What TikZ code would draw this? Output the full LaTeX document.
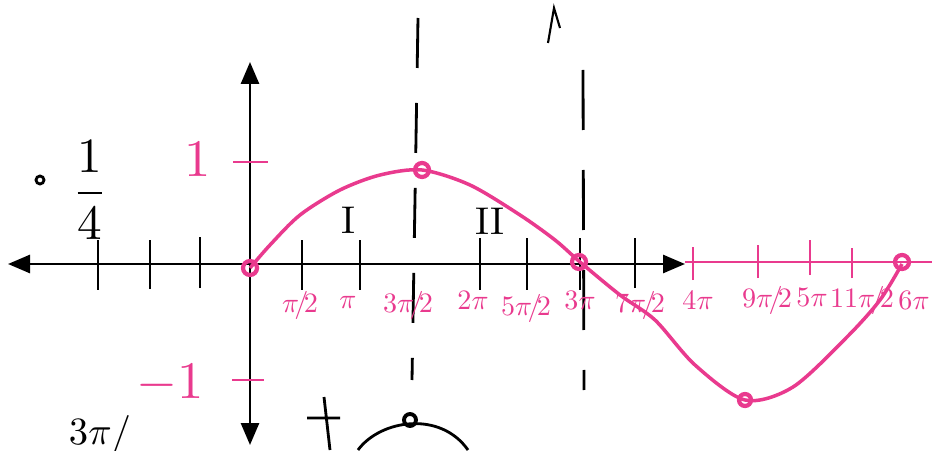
\documentclass[tikz,border=0pt]{standalone}
\usepackage{amsfonts,amssymb,amsmath}
\usepackage{xcolor}
\usepackage{tikz}
\usetikzlibrary{arrows.meta}
\definecolor{pen}{RGB}{233,58,142}

\begin{document}
\begin{tikzpicture}[=>stealth,line width=0.8pt]
\useasboundingbox (0,0) rectangle (9.32,4.5);
% axes
\draw[{Triangle[length=2.2mm,width=1.8mm]}-{Triangle[length=2.2mm,width=1.8mm]}](0.08,1.86)--(6.85,1.86);
\draw[{Triangle[length=2.2mm,width=1.8mm]}-{Triangle[length=2.2mm,width=1.8mm]}](2.50,0.05)--(2.50,3.88);
% ticks
\draw(0.98,1.60)--(0.98,2.10)
(1.50,1.61)--(1.50,2.10)
(2.00,1.62)--(2.00,2.13)
(3.02,1.60)--(3.02,2.10)
(3.60,1.60)--(3.60,2.10)
(4.80,1.60)--(4.80,2.12)
(5.27,1.60)--(5.27,2.12)
(5.80,1.60)--(5.80,2.12)
(6.35,1.62)--(6.35,2.12);
\draw[pen](6.85,1.88)--(9.32,1.88)
(6.93,1.70)--(6.93,2.03)
(7.58,1.72)--(7.58,2.05)
(8.10,1.75)--(8.10,2.10)
(8.52,1.72)--(8.52,2.02)
(2.33,2.88)--(2.68,2.88)
(2.32,0.70)--(2.64,0.70);
% dashed guides
\draw[dash pattern=on 0.5cm off 0.35cm](4.18,4.32)--(4.12,0.70);
\draw[dash pattern=on 0.6cm off 0.4cm](5.83,3.80)--(5.84,0.60);
\draw[line width=0.6pt](5.48,4.07)--(5.54,4.42)--(5.60,4.22);
% curve
\draw[pen,line width=1pt]plot[smooth]coordinates{(2.50,1.82)(2.70,2.05)(3.00,2.35)(3.40,2.60)(3.80,2.75)(4.22,2.80)(4.70,2.65)(5.20,2.35)(5.55,2.10)(5.80,1.88)(6.20,1.55)(6.55,1.30)(6.95,0.85)(7.45,0.50)(7.93,0.63)(8.47,1.13)(8.80,1.50)(9.02,1.86)};
\draw[pen,line width=1.2pt](2.50,1.82)circle(0.07)
(4.22,2.80)circle(0.07)
(5.79,1.88)circle(0.07)
(7.45,0.50)circle(0.06)
(9.02,1.88)circle(0.07);
% labels
\draw[pen](3.00,1.45)node[scale=0.8](lpi1){$\pi\!/\!2$}
(3.48,1.48)node[scale=0.8](lpi2){$\pi$}
(4.08,1.45)node[scale=0.8](lpi3){$3\pi\!/\!2$}
(4.73,1.50)node[scale=0.8](lpi4){$2\pi$}
(5.26,1.42)node[scale=0.8](lpi5){$5\pi\!/\!2$}
(5.80,1.50)node[scale=0.8](lpi6){$3\pi$}
(6.40,1.45)node[scale=0.8](lpi7){$7\pi\!/\!2$}
(6.98,1.50)node[scale=0.8](lpi8){$4\pi$}
(7.67,1.50)node[scale=0.8](lpi9){$9\pi\!/\!2$}
(8.12,1.53)node[scale=0.8](lpi10){$5\pi$}
(8.62,1.50)node[scale=0.8](lpi11){$11\pi\!/\!2$}
(9.14,1.50)node[scale=0.8](lpi12){$6\pi$}
(1.98,2.90)node[scale=1.5](lone){$1$}
(1.70,0.66)node[scale=1.5](lmone){$-1$};
\draw(0.90,2.60)node[scale=1.4](lquart){$\dfrac{1}{4}$}
(3.48,2.30)node[scale=1.1](lI){I}
(4.90,2.29)node[scale=1.1](lII){II}
(1.00,0.15)node[scale=1.1](lbot){$3\pi/$};
\draw(0.40,2.70)circle(0.04);
% lower sketch
\draw(3.07,0.32)--(3.40,0.32)
(3.24,0.53)--(3.30,0.0);
\draw(3.58,0.0)..controls(3.80,0.30)and(4.40,0.40)..(4.68,0.0);
\draw[line width=1.1pt](4.10,0.30)circle(0.06);
\end{tikzpicture}
\end{document}
